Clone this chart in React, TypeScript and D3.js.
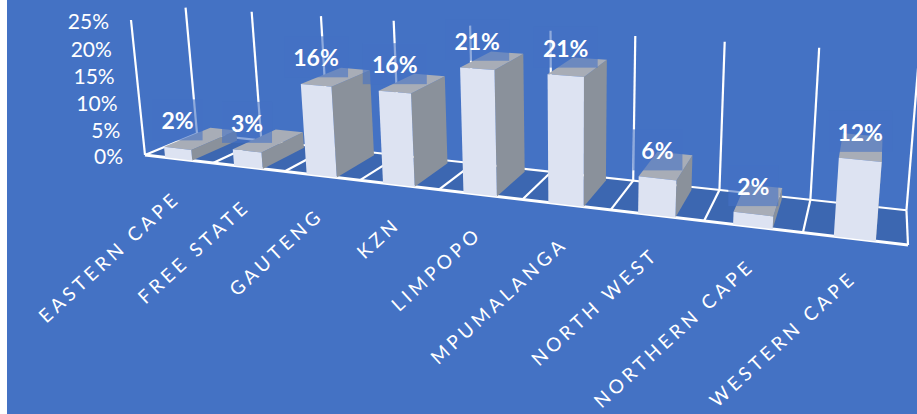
import * as d3 from "d3"

const categories = ["EASTERN CAPE", "FREE STATE", "GAUTENG", "KZN", "LIMPOPO", "MPUMALANGA", "NORTH WEST", "NORTHERN CAPE", "WESTERN CAPE"]
const shares = [2, 3, 16, 16, 21, 21, 6, 2, 12]
const yTicks = [0, 5, 10, 15, 20, 25]

const W = 917
const H = 414
const FONT = "Lato, Carlito, sans-serif"

// camera: floor corners on screen, perspective terms, vanishing point of the vertical direction
const frontLeft = [145, 155]
const frontRight = [908, 245]
const backLeft = [197, 133.5]
const g = -0.217
const h = 0.075
const vanish = [574, 4288]
const vk = -0.03163

const a = frontRight[0] * (1 + g) - frontLeft[0]
const b = backLeft[0] * (1 + h) - frontLeft[0]
const d_ = frontRight[1] * (1 + g) - frontLeft[1]
const e = backLeft[1] * (1 + h) - frontLeft[1]

function project(u: number, d: number, z: number): [number, number] {
  const w = g * u + h * d + 1 + vk * z
  return [
    (a * u + b * d + frontLeft[0] + vk * vanish[0] * z) / w,
    (d_ * u + e * d + frontLeft[1] + vk * vanish[1] * z) / w,
  ]
}

const xBand = d3.scaleBand<string>().domain(categories).range([0, 1]).paddingInner(0.6).paddingOuter(0.3)
const xEdge = d3.scaleLinear().domain([0, categories.length]).range([0, 1])
const zScale = d3.scaleLinear().domain([0, 25]).range([0, 1])
const depth = d3.scaleLinear().domain([0, 1]).range([0, 0.9])
const poly = d3.line()

const quad = (pts: [number, number][]) => poly(pts) + "Z"
const edges = d3.range(categories.length + 1)

export default function App() {
  return (
    <svg width={W} height={H} style={{ position: "fixed", left: 0, top: 0 }}>
      <rect width={W} height={H} fill="#fff" />
      <rect x={7} width={W - 7} height={H} fill="#4472c4" />

      {/* floor */}
      <path d={quad([project(0, 0, 0), project(1, 0, 0), project(1, 1, 0), project(0, 1, 0)])} fill="#3c67b1" />

      {/* wall verticals */}
      <line
        x1={project(0, 0, 0)[0]} y1={project(0, 0, 0)[1]}
        x2={project(0, 0, 1)[0]} y2={project(0, 0, 1)[1]}
        stroke="#fff" strokeWidth={2.2}
      />
      {edges.map((i) => {
        const p0 = project(xEdge(i), 1, 0)
        const p1 = project(xEdge(i), 1, 1)
        return <line key={i} x1={p0[0]} y1={p0[1]} x2={p1[0]} y2={p1[1]} stroke="#fff" strokeWidth={2.2} />
      })}

      {/* floor grid */}
      {edges.map((i) => {
        const p0 = project(xEdge(i), 0, 0)
        const p1 = project(xEdge(i), 1, 0)
        return <line key={i} x1={p0[0]} y1={p0[1]} x2={p1[0]} y2={p1[1]} stroke="#fff" strokeWidth={2.2} />
      })}
      <path d={poly([project(0, 1, 0), project(1, 1, 0)]) ?? ""} stroke="#fff" strokeWidth={2} fill="none" />
      <path d={poly([project(0, 0, 0), project(1, 0, 0)]) ?? ""} stroke="#fff" strokeWidth={3} fill="none" />

      {/* bars */}
      {categories.map((c, i) => {
        const u0 = xBand(c) as number
        const u1 = u0 + xBand.bandwidth()
        const z = zScale(shares[i])
        const d0 = depth(0)
        const d1 = depth(1)
        return (
          <g key={c}>
            <path d={quad([project(u1, d0, 0), project(u1, d1, 0), project(u1, d1, z), project(u1, d0, z)])} fill="#8a919b" />
            <path d={quad([project(u0, d0, z), project(u1, d0, z), project(u1, d1, z), project(u0, d1, z)])} fill="#a8adb7" />
            <path d={quad([project(u0, d0, 0), project(u1, d0, 0), project(u1, d0, z), project(u0, d0, z)])} fill="#dde3f2" />
          </g>
        )
      })}

      {/* data labels with their translucent boxes */}
      {categories.map((c, i) => {
        const u0 = xBand(c) as number
        const z = zScale(shares[i])
        const p = project(u0 + xBand.bandwidth() / 2, 0, z)
        const label = shares[i] + "%"
        const half = label.length > 2 ? 32 : 25
        return <rect key={c} x={p[0] - half} y={p[1] - 49} width={half * 2} height={41} fill="#4472c4" fillOpacity={0.6} />
      })}
      {categories.map((c, i) => {
        const u0 = xBand(c) as number
        const z = zScale(shares[i])
        const p = project(u0 + xBand.bandwidth() / 2, 0, z)
        return (
          <text key={c} x={p[0]} y={p[1] - 19} textAnchor="middle" fill="#fff" fontFamily={FONT} fontWeight={700} fontSize={23}>
            {shares[i]}%
          </text>
        )
      })}

      {/* value axis */}
      {yTicks.map((t) => {
        const p = project(0, 0, zScale(t))
        return (
          <text key={t} x={p[0] - 22} y={p[1] + 9} textAnchor="end" fill="#fff" fontFamily={FONT} fontSize={21}>
            {t}%
          </text>
        )
      })}

      {/* category axis */}
      {categories.map((c) => {
        const u0 = xBand(c) as number
        const p = project(u0 + xBand.bandwidth() / 2, 0, 0)
        return (
          <text
            key={c}
            transform={`translate(${p[0] + 3},${p[1] + 41}) rotate(-42.5)`}
            textAnchor="end"
            fill="#fff"
            fontFamily={FONT}
            fontSize={19}
            letterSpacing={4}
          >
            {c}
          </text>
        )
      })}
    </svg>
  )
}
